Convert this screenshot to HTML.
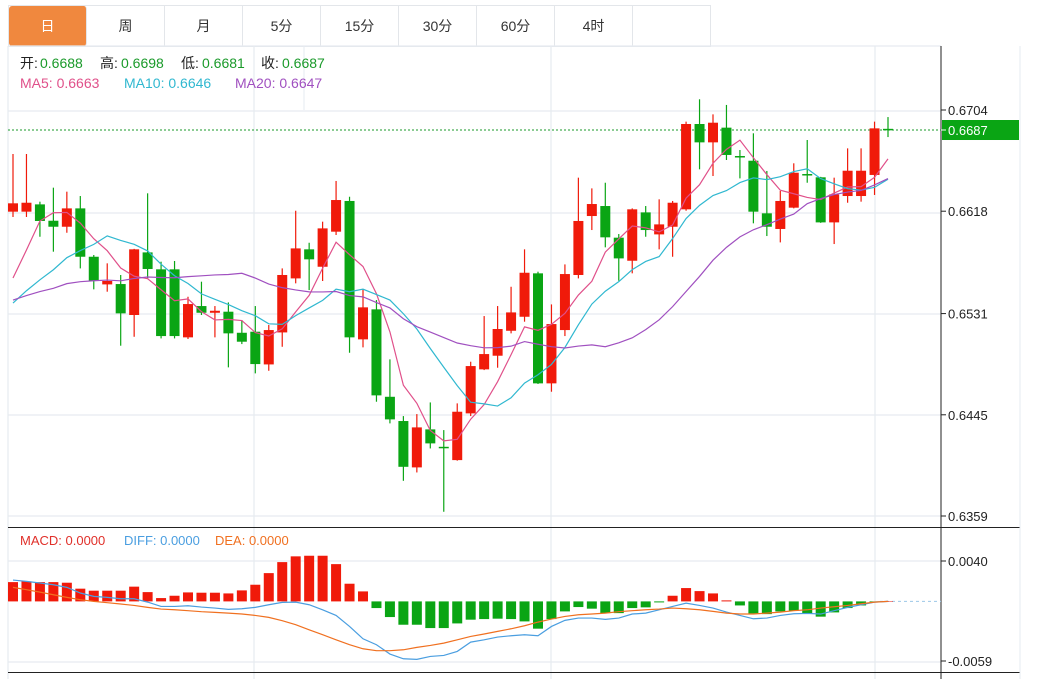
<!DOCTYPE html>
<html><head><meta charset="utf-8">
<style>
body{margin:0;background:#fff;width:1038px;height:679px;overflow:hidden;font-family:"Liberation Sans","Noto Sans CJK SC",sans-serif;}
#tabs{position:absolute;left:8px;top:5px;height:40px;display:flex;border:1px solid #e3e6ea;border-right:none;}
.tab{width:78px;height:40px;line-height:40px;text-align:center;font-size:14px;color:#333;border-right:1px solid #e3e6ea;box-sizing:border-box;}
.tab.active{background:#f0883e;color:#fff;border-radius:3px;}
svg{position:absolute;left:0;top:0;}
</style></head><body>
<div id="tabs">
<div class="tab active">日</div>
<div class="tab">周</div>
<div class="tab">月</div>
<div class="tab">5分</div>
<div class="tab">15分</div>
<div class="tab">30分</div>
<div class="tab">60分</div>
<div class="tab">4时</div>
<div class="tab"></div>
</div>
<svg id="chart" width="1038" height="679"></svg>
<script>
const opens=[0.66176,0.66176,0.66238,0.66099,0.66048,0.66204,0.65793,0.65558,0.65561,0.65298,0.65830,0.65686,0.65686,0.65108,0.65374,0.65317,0.65326,0.65147,0.65156,0.64878,0.65150,0.65609,0.65856,0.65708,0.66006,0.66267,0.65091,0.65346,0.64603,0.64397,0.64003,0.64326,0.64178,0.64065,0.64462,0.64836,0.64952,0.65164,0.65283,0.65652,0.64717,0.65170,0.65638,0.66139,0.66224,0.65955,0.65759,0.66170,0.65983,0.66048,0.66196,0.66921,0.66765,0.66890,0.66649,0.66609,0.66162,0.66029,0.66210,0.66496,0.66468,0.66085,0.66309,0.66309,0.66488,0.66880];
const highs=[0.66666,0.66666,0.66261,0.66380,0.66346,0.66309,0.65808,0.65737,0.65638,0.65860,0.66332,0.65751,0.65757,0.65453,0.65581,0.65374,0.65405,0.65255,0.65374,0.65213,0.65694,0.66184,0.65912,0.66091,0.66437,0.66303,0.65516,0.65425,0.64921,0.64439,0.64456,0.64555,0.64320,0.64547,0.64901,0.65289,0.65374,0.65538,0.65856,0.65666,0.65388,0.65728,0.66465,0.66374,0.66422,0.65986,0.66204,0.66224,0.66281,0.66267,0.66941,0.67131,0.67003,0.67083,0.66700,0.66842,0.66522,0.66352,0.66587,0.66785,0.66472,0.66465,0.66714,0.66714,0.66941,0.66980];
const lows=[0.66131,0.66131,0.65963,0.65836,0.65997,0.65694,0.65516,0.65496,0.65037,0.65113,0.65609,0.65099,0.65099,0.65094,0.65298,0.65108,0.64853,0.65051,0.64802,0.64824,0.65028,0.65567,0.65510,0.65587,0.65978,0.64977,0.65023,0.64561,0.64377,0.63889,0.63960,0.64164,0.63626,0.64060,0.64439,0.64830,0.64850,0.65142,0.65241,0.64712,0.64646,0.65119,0.65609,0.66020,0.65873,0.65589,0.65652,0.65963,0.65856,0.65793,0.66184,0.66536,0.66479,0.66615,0.66459,0.66077,0.65969,0.65915,0.66204,0.66422,0.66081,0.65901,0.66252,0.66261,0.66318,0.66810];
const closes=[0.66247,0.66252,0.66097,0.66048,0.66204,0.65793,0.65589,0.65587,0.65312,0.65856,0.65689,0.65119,0.65119,0.65391,0.65317,0.65334,0.65142,0.65071,0.64881,0.65170,0.65638,0.65864,0.65771,0.66034,0.66275,0.65108,0.65363,0.64615,0.64411,0.64008,0.64343,0.64207,0.64173,0.64476,0.64864,0.64966,0.65179,0.65320,0.65657,0.64717,0.65221,0.65646,0.66097,0.66241,0.65958,0.65779,0.66196,0.66020,0.66068,0.66252,0.66921,0.66765,0.66932,0.66658,0.66643,0.66176,0.66048,0.66267,0.66507,0.66488,0.66085,0.66323,0.66524,0.66524,0.66884,0.66870];
const priorCloses=[0.65480,0.65420,0.65500,0.65410,0.65460,0.65430,0.65470,0.65440,0.65460,0.65440,0.65200,0.65170,0.65190,0.65180,0.65190,0.65062,0.64864,0.65697,0.66190];
const priceTicks=[0.6704,0.6618,0.6531,0.6445,0.6359];
const macdHist=[19.1,19.8,19.1,19.1,18.5,12.6,10.6,10.6,10.6,14.6,9.2,3.3,5.6,8.9,8.6,8.6,7.9,10.9,16.5,28.0,38.9,44.6,45.2,45.2,36.9,17.5,9.9,-6.6,-15.5,-23.1,-23.1,-26.4,-26.4,-21.8,-18.1,-17.5,-17.1,-17.5,-19.8,-27.0,-17.5,-9.9,-5.6,-7.2,-11.6,-11.6,-6.6,-5.9,-1.0,5.6,13.2,10.2,7.9,1.0,-4.0,-11.9,-12.6,-9.9,-9.2,-12.2,-15.1,-10.9,-6.6,-4.0,-0.7,0];
const diffLine=[21.1,19.8,18.2,16.5,13.9,8.3,5.0,4.0,2.6,2.6,-0.7,-5.0,-5.0,-4.3,-5.6,-6.6,-7.9,-7.3,-5.9,-3.3,-1.0,-0.7,-3.3,-8.3,-13.9,-24.8,-37.0,-42.9,-52.1,-56.8,-57.4,-54.5,-53.5,-49.5,-40.3,-38.0,-35.3,-34.0,-33.0,-34.0,-24.8,-18.8,-16.5,-16.5,-17.8,-16.5,-12.5,-11.6,-8.3,-5.0,-1.7,-4.0,-6.6,-10.6,-13.9,-17.2,-16.5,-13.9,-12.2,-11.9,-12.5,-9.2,-5.9,-3.3,-0.7,0];
const deaLine=[13.9,11.6,9.2,6.6,4.0,1.7,0,-1.3,-2.6,-4.0,-5.9,-7.6,-8.3,-9.2,-10.2,-10.9,-11.6,-12.5,-13.9,-15.8,-19.1,-23.1,-28.1,-33.0,-38.0,-42.9,-46.9,-48.8,-48.8,-47.9,-45.5,-43.6,-41.3,-38.0,-34.7,-32.3,-29.7,-27.1,-24.1,-20.5,-17.5,-14.9,-13.2,-12.5,-11.6,-10.2,-9.2,-8.3,-7.6,-6.6,-7.3,-8.3,-9.9,-11.6,-12.5,-12.5,-11.6,-10.6,-9.2,-8.3,-6.6,-5.3,-4.0,-2.3,-0.7,0];
const macdTicks=[0.0040,-0.0059];

const svg=document.getElementById('chart');
const NS='http://www.w3.org/2000/svg';
function el(tag,attrs,parent){const e=document.createElementNS(NS,tag);for(const k in attrs)e.setAttribute(k,attrs[k]);(parent||svg).appendChild(e);return e;}
const n=closes.length;
const x=i=>13+i*(875/(n-1));
const y=p=>110+(0.6704-p)*11768;
const my=v=>601.4-v*1e-4*10101;
const RED='#f01a0a',GREEN='#0aa514';

// grid
const grid=el('g',{});


[46,111,213,314,415,516,561,662].forEach(gy=>el('line',{x1:8,x2:941,y1:gy,y2:gy,stroke:'#e6ebf0','stroke-width':1.2},grid));
[8,254,551,875].forEach(gx=>{el('line',{x1:gx,x2:gx,y1:46,y2:527,stroke:'#e6ebf0','stroke-width':1.2},grid);el('line',{x1:gx,x2:gx,y1:527,y2:679,stroke:'#e6ebf0','stroke-width':1.2},grid);});
el('line',{x1:304,x2:304,y1:46,y2:110,stroke:'#e6ebf0'},grid);
el('line',{x1:551,x2:551,y1:46,y2:110,stroke:'#e6ebf0'},grid);
// panel borders
el('line',{x1:941,x2:941,y1:46,y2:679,stroke:'#222','stroke-width':1});
el('line',{x1:8,x2:1020,y1:527.5,y2:527.5,stroke:'#222','stroke-width':1});
el('line',{x1:8,x2:1020,y1:672.5,y2:672.5,stroke:'#222','stroke-width':1});
el('line',{x1:1020,x2:1020,y1:46,y2:679,stroke:'#e6ebf0'});

// header
function txt(s,tx,ty,fill,size,name,parent){const t=el('text',{x:tx,y:ty,fill:fill,'font-size':size||14,'font-family':'"Liberation Sans","Noto Sans CJK SC",sans-serif'},parent);t.textContent=s;return t;}
txt('开:',20,68,'#222',14,'open-label');txt('0.6688',40,68,'#1a9a2a',14,'open-value');
txt('高:',100,68,'#222',14,'high-label');txt('0.6698',121,68,'#1a9a2a',14,'high-value');
txt('低:',181,68,'#222',14,'low-label');txt('0.6681',202,68,'#1a9a2a',14,'low-value');
txt('收:',261,68,'#222',14,'close-label');txt('0.6687',282,68,'#1a9a2a',14,'close-value');
txt('MA5: 0.6663',20,88,'#e0508a',14,'ma5-legend');
txt('MA10: 0.6646',124,88,'#30b8d0',14,'ma10-legend');
txt('MA20: 0.6647',235,88,'#a050c0',14,'ma20-legend');
txt('MACD: 0.0000',20,545,'#e0302a',13,'macd-legend');
txt('DIFF: 0.0000',124,545,'#4a9ee0',13,'diff-legend');
txt('DEA: 0.0000',215,545,'#f07020',13,'dea-legend');

// price axis
priceTicks.forEach(p=>{const yy=y(p);el('line',{x1:941,x2:946,y1:yy,y2:yy,stroke:'#222'});txt(p.toFixed(4),948,yy+5,'#222',13,'price-tick');});
macdTicks.forEach(v=>{const yy=my(v*1e4);el('line',{x1:941,x2:946,y1:yy,y2:yy,stroke:'#222'});txt(v.toFixed(4),948,yy+5,'#222',13,'macd-tick');});

// last price line
const lp=closes[n-1];
el('line',{x1:8,x2:941,y1:y(lp),y2:y(lp),stroke:'#1a9a2a','stroke-dasharray':'2,2'});
const lb=el('rect',{x:942,y:y(lp)-10,width:77,height:20,fill:'#0aa514'});


txt(lp.toFixed(4),948,y(lp)+5,'#fff',13,'last-price-label');
el('line',{x1:941,x2:946,y1:y(lp),y2:y(lp),stroke:'#fff'});

// candles
const cg=el('g',{});


for(let i=0;i<n;i++){
  const up=closes[i]>opens[i];const col=up?RED:GREEN;
  const w=el('line',{x1:x(i),x2:x(i),y1:y(highs[i]),y2:y(lows[i]),stroke:col,'stroke-width':1.2},cg);
  
  
  const t=Math.min(y(opens[i]),y(closes[i]));const h=Math.max(1.5,Math.abs(y(opens[i])-y(closes[i])));
  const b=el('rect',{x:x(i)-5,y:t,width:10,height:h,fill:col},cg);
  
  
}
// MAs
const all=priorCloses.concat(closes);
function ma(len){const out=[];for(let i=0;i<n;i++){const j=i+priorCloses.length;let s=0;for(let k=j-len+1;k<=j;k++)s+=all[k];out.push(s/len);}return out;}
[[5,'#e0508a','ma5-line'],[10,'#30b8d0','ma10-line'],[20,'#a050c0','ma20-line']].forEach(([len,col,name])=>{
  const v=ma(len);const p=el('polyline',{points:v.map((m,i)=>x(i)+','+y(m)).join(' '),fill:'none',stroke:col,'stroke-width':1.2});
  
  
});
// MACD
el('line',{x1:880,x2:941,y1:my(0),y2:my(0),stroke:'#9cc8e8','stroke-dasharray':'3,3'});
const mg=el('g',{});


macdHist.forEach((v,i)=>{const yy=my(v),z=my(0);const r=el('rect',{x:x(i)-5,y:Math.min(yy,z),width:10,height:Math.max(0.5,Math.abs(yy-z)),fill:v>=0?RED:GREEN},mg);
  
  });
const dl=el('polyline',{points:diffLine.map((v,i)=>x(i)+','+my(v)).join(' '),fill:'none',stroke:'#4a9ee0','stroke-width':1.2});


const de=el('polyline',{points:deaLine.map((v,i)=>x(i)+','+my(v)).join(' '),fill:'none',stroke:'#f07020','stroke-width':1.2});


</script>
</body></html>
